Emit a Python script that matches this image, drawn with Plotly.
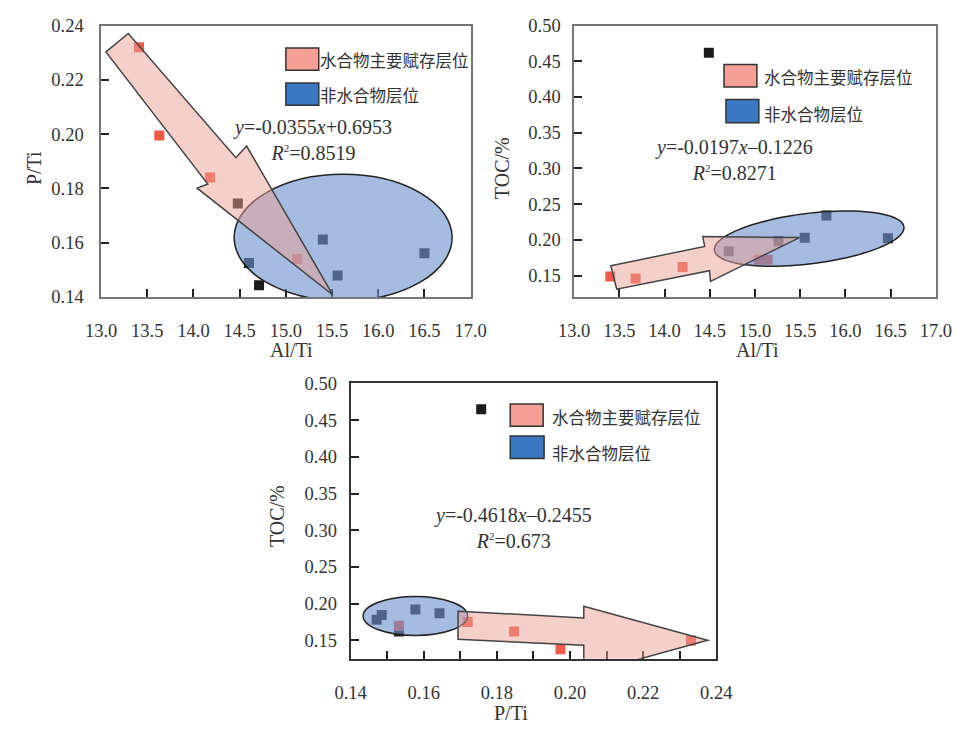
import numpy as np
import plotly.graph_objects as go

# ---------------- data ----------------
# Panel A: Al/Ti vs P/Ti
a_red_x = [13.41, 13.63, 14.18, 15.12]
a_red_y = [0.232, 0.1995, 0.184, 0.154]
a_dark_x = [14.48, 14.60, 14.71, 15.40, 15.56, 16.50]
a_dark_y = [0.1744, 0.1525, 0.1443, 0.1612, 0.1479, 0.1561]

# Panel B: Al/Ti vs TOC
b_red_x = [13.40, 13.68, 14.20, 15.04, 15.14]
b_red_y = [0.1486, 0.1459, 0.162, 0.172, 0.172]
b_dark_x = [14.49, 14.71, 15.26, 15.55, 15.79, 16.47]
b_dark_y = [0.462, 0.184, 0.198, 0.203, 0.234, 0.202]

# Panel C: P/Ti vs TOC
c_red_x = [0.1532, 0.172, 0.1847, 0.1974, 0.2331]
c_red_y = [0.170, 0.175, 0.162, 0.138, 0.150]
c_dark_x = [0.1757, 0.1471, 0.1485, 0.1532, 0.1577, 0.1643]
c_dark_y = [0.465, 0.178, 0.1845, 0.162, 0.192, 0.187]

legend_texts = ["水合物主要赋存层位", "非水合物层位"]
SUP2 = "<sup><span style='font-size:11px'>2</span></sup>"
eq_a = ["<i>y</i>=-0.0355<i>x</i>+0.6953", "<i>R</i>" + SUP2 + "=0.8519"]
eq_b = ["<i>y</i>=-0.0197<i>x</i>–0.1226", "<i>R</i>" + SUP2 + "=0.8271"]
eq_c = ["<i>y</i>=-0.4618<i>x</i>–0.2455", "<i>R</i>" + SUP2 + "=0.673"]

# decorative arrow outlines (data coordinates of each panel)
arrow_a = [(13.052, 0.2303), (13.294, 0.2371), (14.459, 0.1913), (14.575, 0.1956),
           (15.509, 0.1407), (14.039, 0.1801), (14.155, 0.1816)]
arrow_b = [(13.406, 0.1636), (14.444, 0.1908), (14.422, 0.2045), (15.492, 0.2031),
           (14.508, 0.1418), (14.497, 0.1568), (13.471, 0.1309)]
arrow_c = [(0.16937, 0.1898), (0.20376, 0.1806), (0.20376, 0.1964), (0.23762, 0.1501),
           (0.20376, 0.1038), (0.20376, 0.1435), (0.16937, 0.1515)]

RED = "#f05a48"
DARK = "#1c1c1c"
ELL_FILL = "rgba(110,145,205,0.62)"
ARR_FILL = "rgba(235,160,150,0.5)"
PINK_BOX = "#f4a097"
BLUE_BOX = "#3a78c2"
SERIF = "Liberation Serif"
CJK = "Noto Sans CJK SC"

fig = go.Figure()

panels = [
    ("x", "y", a_red_x, a_red_y, a_dark_x, a_dark_y),
    ("x2", "y2", b_red_x, b_red_y, b_dark_x, b_dark_y),
    ("x3", "y3", c_red_x, c_red_y, c_dark_x, c_dark_y),
]
for xr, yr, rx, ry, dx, dy in panels:
    fig.add_trace(go.Scatter(x=dx, y=dy, xaxis=xr, yaxis=yr, mode="markers",
                             marker=dict(symbol="square", size=10, color=DARK, line=dict(width=0)),
                             showlegend=False, hoverinfo="skip"))
    fig.add_trace(go.Scatter(x=rx, y=ry, xaxis=xr, yaxis=yr, mode="markers",
                             marker=dict(symbol="square", size=10, color=RED, line=dict(width=0)),
                             showlegend=False, hoverinfo="skip"))


def poly_path(pts):
    return "M " + " L ".join(f"{x},{y}" for x, y in pts) + " Z"


def ellipse_path(cx, cy, ax, ay, bx, by, n=90):
    t = np.linspace(0, 2 * np.pi, n, endpoint=False)
    pts = [(cx + ax * np.cos(tt) + bx * np.sin(tt), cy + ay * np.cos(tt) + by * np.sin(tt)) for tt in t]
    return poly_path(pts)


shapes = []
# ellipses
shapes.append(dict(type="circle", xref="x", yref="y", x0=14.44, x1=16.80, y0=0.1386, y1=0.1852,
                   fillcolor=ELL_FILL, line=dict(color="#222", width=1.5), layer="above"))
shapes.append(dict(type="path", xref="x2", yref="y2",
                   path=ellipse_path(15.599, 0.2017, 1.048, 0.01635, 0.034, -0.0351),
                   fillcolor=ELL_FILL, line=dict(color="#222", width=1.5), layer="above"))
shapes.append(dict(type="circle", xref="x3", yref="y3", x0=0.1434, x1=0.172, y0=0.1567, y1=0.2097,
                   fillcolor=ELL_FILL, line=dict(color="#222", width=1.5), layer="above"))
# arrows
for xr, yr, pts in [("x", "y", arrow_a), ("x2", "y2", arrow_b), ("x3", "y3", arrow_c)]:
    shapes.append(dict(type="path", xref=xr, yref=yr, path=poly_path(pts),
                       fillcolor=ARR_FILL, line=dict(color="#444", width=1.5), layer="above"))

annotations = []
legend_cfg = [
    ("x", "y", (0.500, 0.589, 0.835, 0.9176), (0.500, 0.589, 0.706, 0.7885), 0.588, (0.8746, 0.7455)),
    ("x2", "y2", (0.4144, 0.5053, 0.774, 0.8566), (0.4198, 0.5107, 0.6416, 0.7276), 0.520, (0.810, 0.6738)),
    ("x3", "y3", (0.4365, 0.5265, 0.8445, 0.9258), (0.4365, 0.529, 0.7279, 0.8092), 0.546, (0.8799, 0.7491)),
]
for xr, yr, pb, bb, tx, tys in legend_cfg:
    for box, col in [(pb, PINK_BOX), (bb, BLUE_BOX)]:
        shapes.append(dict(type="rect", xref=xr + " domain", yref=yr + " domain",
                           x0=box[0], x1=box[1], y0=box[2], y1=box[3],
                           fillcolor=col, line=dict(color="#333", width=1.5), layer="above"))
    for txt, ty in zip(legend_texts, tys):
        annotations.append(dict(xref=xr + " domain", yref=yr + " domain", x=tx, y=ty, text=txt,
                                showarrow=False, xanchor="left", yanchor="middle",
                                font=dict(family=CJK, size=16.5, color="#333")))

eq_cfg = [
    ("x", "y", eq_a, (0.571, 0.577)),
    ("x2", "y2", eq_b, (0.441, 0.5054)),
    ("x3", "y3", eq_c, (0.443, 0.4735)),
]
for xr, yr, eqs, p in eq_cfg:
    annotations.append(dict(xref=xr + " domain", yref=yr + " domain", x=p[0], y=p[1],
                            text="<br>".join(eqs), align="center",
                            showarrow=False, xanchor="center", yanchor="middle",
                            font=dict(family=SERIF, size=20, color="#333")))

title_cfg = [
    ("x", "y", "P/Ti", (-0.183, 0.473), 270),
    ("x", "y", "Al/Ti", (0.516, -0.197), 0),
    ("x2", "y2", "TOC/%", (-0.2005, 0.473), 270),
    ("x2", "y2", "Al/Ti", (0.508, -0.197), 0),
    ("x3", "y3", "TOC/%", (-0.201, 0.519), 270),
    ("x3", "y3", "P/Ti", (0.439, -0.198), 0),
]
for xr, yr, txt, p, ang in title_cfg:
    annotations.append(dict(xref=xr + " domain", yref=yr + " domain", x=p[0], y=p[1], text=txt,
                            showarrow=False, xanchor="center", yanchor="middle", textangle=ang,
                            font=dict(family=SERIF, size=20, color="#333")))

tickfont = dict(family=SERIF, size=18.5, color="#333")


def xax(domain, rng, dtick, anchor, lc, lw, minor=None):
    d = dict(domain=domain, range=rng, dtick=dtick, tick0=rng[0], anchor=anchor,
             showline=True, mirror=True, linecolor=lc, linewidth=lw,
             ticks="inside", ticklen=8, tickcolor="#222", tickwidth=1.5,
             showgrid=False, zeroline=False, tickfont=tickfont, ticklabelstandoff=16,
             tickformat=".1f" if dtick >= 0.1 else ".2f")
    if minor:
        d["minor"] = dict(dtick=minor, ticks="inside", ticklen=8, tickcolor="#222", tickwidth=1.5,
                          showgrid=False)
    return d


def yax(domain, rng, dtick, tick0, anchor, lc, lw, standoff):
    return dict(domain=domain, range=rng, dtick=dtick, tick0=tick0, anchor=anchor,
                showline=True, mirror=True, linecolor=lc, linewidth=lw,
                ticks="inside", ticklen=8, tickcolor="#222", tickwidth=1.5,
                showgrid=False, zeroline=False, tickfont=tickfont, ticklabelstandoff=standoff,
                tickformat=".2f")


W, H = 977, 731
fig.update_layout(
    width=W, height=H, autosize=False,
    margin=dict(l=0, r=0, t=0, b=0),
    paper_bgcolor="white", plot_bgcolor="white",
    xaxis=xax([88 / W, 470 / W], [13.0, 17.0], 0.5, "y", "#777", 1.5),
    yaxis=yax([1 - 295 / H, 1 - 16 / H], [0.14, 0.24], 0.02, 0.14, "x", "#777", 1.5, 12),
    xaxis2=xax([577 / W, 951 / W], [13.0, 17.0], 0.5, "y2", "#777", 1.5),
    yaxis2=yax([1 - 295 / H, 1 - 16 / H], [0.12, 0.50], 0.05, 0.15, "x2", "#777", 1.5, 8),
    xaxis3=xax([346 / W, 724 / W], [0.14, 0.24], 0.02, "y3", "#333", 2, minor=0.01),
    yaxis3=yax([1 - 667 / H, 1 - 384 / H], [0.125, 0.50], 0.05, 0.15, "x3", "#333", 2, 8),
    shapes=shapes,
    annotations=annotations,
)

fig.write_html("out.html", config={"displayModeBar": False},
               post_script="document.body.style.margin='0';")
